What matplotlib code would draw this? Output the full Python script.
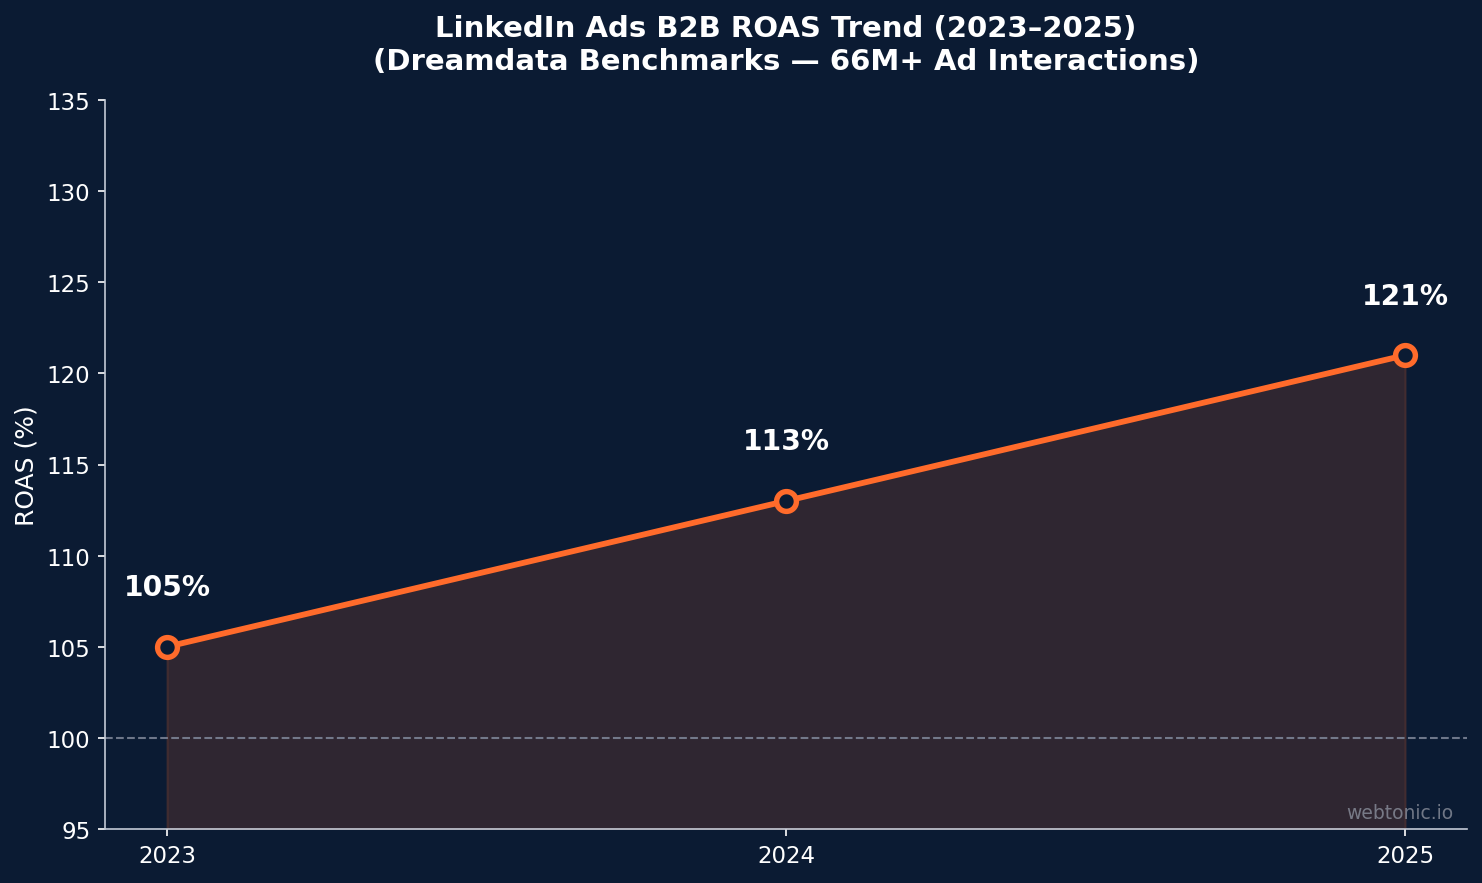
import matplotlib
matplotlib.use("Agg")
import matplotlib.pyplot as plt

years = [2023, 2024, 2025]
roas = [105, 113, 121]
labels = ["105%", "113%", "121%"]
yticks = [95, 100, 105, 110, 115, 120, 125, 130, 135]

bg = "#0b1b33"
orange = "#ff6b2b"
spine = "#c3cad6"

fig = plt.figure(figsize=(9.88, 5.893), dpi=150, facecolor=bg)
ax = fig.add_axes([0.0709, 0.0611, 0.919, 0.8246])
ax.set_facecolor(bg)

ax.fill_between(years, roas, 95, color=orange, alpha=0.15, linewidth=1)
ax.plot(years, roas, color=orange, linewidth=2.8, marker="o", markersize=9.5,
        markerfacecolor=bg, markeredgecolor=orange, markeredgewidth=2.6, zorder=3)
ax.axhline(100, color="#80889a", linestyle="--", linewidth=1.0, alpha=0.85)

for x, y, t in zip(years, roas, labels):
    ax.text(x, y + 2.5, t, ha="center", va="bottom", color="white",
            fontsize=13.5, fontweight="bold")

ax.set_ylim(95, 135)
ax.set_yticks(yticks)
ax.set_xticks(years)
ax.set_xticklabels([str(y) for y in years])
ax.set_ylabel("ROAS (%)", color="white", fontsize=12)
ax.tick_params(colors="white", labelsize=11)
for s in ["top", "right"]:
    ax.spines[s].set_visible(False)
for s in ["left", "bottom"]:
    ax.spines[s].set_color(spine)

ax.set_title("LinkedIn Ads B2B ROAS Trend (2023\u20132025)\n(Dreamdata Benchmarks \u2014 66M+ Ad Interactions)",
             color="white", fontsize=14, fontweight="bold", pad=15)
ax.text(0.99, 0.01, "webtonic.io", transform=ax.transAxes, ha="right", va="bottom",
        color="#8a8f9c", fontsize=9, alpha=0.8)

plt.savefig("out.png", facecolor=bg)
